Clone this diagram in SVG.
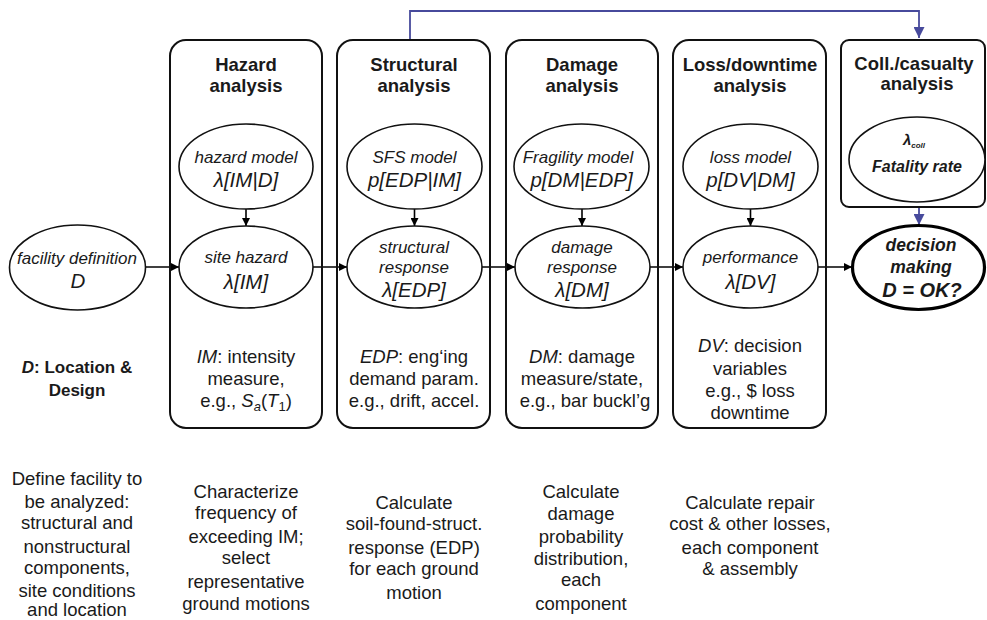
<svg xmlns="http://www.w3.org/2000/svg" width="987" height="620" viewBox="0 0 987 620">
<defs>
<marker id="ah" viewBox="0 0 10 10" refX="10" refY="5" markerWidth="8" markerHeight="8" markerUnits="userSpaceOnUse" orient="auto"><path d="M0,0 L10,5 L0,10 z" fill="#000"/></marker>
<marker id="ahb" viewBox="0 0 10 10" refX="10" refY="5" markerWidth="11" markerHeight="11" markerUnits="userSpaceOnUse" orient="auto"><path d="M0,0 L10,5 L0,10 z" fill="#474a9c"/></marker>
</defs>
<style>
.box{fill:none;stroke:#111;stroke-width:2}
.ell{fill:#fff;stroke:#111;stroke-width:1.6}
.ell2{fill:#fff;stroke:#000;stroke-width:3.2}
.t{font-family:"Liberation Sans",Arial,sans-serif;fill:#1a1a1a;text-anchor:middle}
.title{font-size:18.5px;font-weight:bold}
.it{font-size:17px;font-style:italic}
.mt{font-size:20.5px;font-style:italic}
.bt{font-size:18.5px}
.bi{font-style:italic}
.c{fill:none;stroke:#000;stroke-width:1.6}
.cb{fill:none;stroke:#474a9c;stroke-width:1.8}
</style>
<rect width="987" height="620" fill="#fff"/>

<g id="connectors">
<path class="cb" d="M410,40 V11 H919 V38" marker-end="url(#ahb)"/>
<path class="cb" d="M919,207 V225" marker-end="url(#ahb)"/>
<path class="c" d="M146,267 H179" marker-end="url(#ah)"/>
<path class="c" d="M313,267 H347" marker-end="url(#ah)"/>
<path class="c" d="M482,267 H515" marker-end="url(#ah)"/>
<path class="c" d="M650,267 H683" marker-end="url(#ah)"/>
<path class="c" d="M818,267 H852" marker-end="url(#ah)"/>
<path class="c" d="M246,209 V226" marker-end="url(#ah)"/>
<path class="c" d="M414.5,209 V226" marker-end="url(#ah)"/>
<path class="c" d="M582,209 V226" marker-end="url(#ah)"/>
<path class="c" d="M750.5,209 V226" marker-end="url(#ah)"/>
</g>

<g id="hazard-box">
<rect class="box" x="170" y="40" width="152" height="388" rx="16"/>
<text class="t title" x="246" y="71">Hazard</text>
<text class="t title" x="246" y="92">analysis</text>
<text class="t bt" x="246" y="363"><tspan class="bi">IM</tspan>: intensity</text>
<text class="t bt" x="246" y="385">measure,</text>
<text class="t bt" x="246" y="407">e.g., <tspan class="bi">S</tspan><tspan class="bi" font-size="13" dy="4">a</tspan><tspan dy="-4">(</tspan><tspan class="bi">T</tspan><tspan font-size="13" dy="4">1</tspan><tspan dy="-4">)</tspan></text>
</g>
<g id="structural-box">
<rect class="box" x="337" y="40" width="153" height="388" rx="16"/>
<text class="t title" x="414" y="71">Structural</text>
<text class="t title" x="414" y="92">analysis</text>
<text class="t bt" x="414" y="363"><tspan class="bi">EDP</tspan>: eng‘ing</text>
<text class="t bt" x="414" y="385">demand param.</text>
<text class="t bt" x="414" y="407">e.g., drift, accel.</text>
</g>
<g id="damage-box">
<rect class="box" x="506" y="40" width="152" height="388" rx="16"/>
<text class="t title" x="582" y="71">Damage</text>
<text class="t title" x="582" y="92">analysis</text>
<text class="t bt" x="582" y="363"><tspan class="bi">DM</tspan>: damage</text>
<text class="t bt" x="582" y="385">measure/state,</text>
<text class="t bt" x="585" y="407">e.g., bar buckl’g</text>
</g>
<g id="loss-box">
<rect class="box" x="673" y="40" width="153" height="388" rx="16"/>
<text class="t title" x="750" y="71">Loss/downtime</text>
<text class="t title" x="750" y="92">analysis</text>
<text class="t bt" x="750" y="352"><tspan class="bi">DV</tspan>: decision</text>
<text class="t bt" x="750" y="375">variables</text>
<text class="t bt" x="750" y="397">e.g., $ loss</text>
<text class="t bt" x="750" y="419">downtime</text>
</g>
<g id="coll-box">
<rect class="box" x="841" y="40" width="144" height="167" rx="8"/>
<text class="t title" x="914" y="70">Coll./casualty</text>
<text class="t title" x="917" y="90">analysis</text>
</g>

<g id="facility">
<ellipse class="ell" cx="77.5" cy="267.5" rx="68" ry="42.5"/>
<text class="t it" x="77" y="264">facility definition</text>
<text class="t mt" x="78" y="288">D</text>
</g>
<g id="hazard-model">
<ellipse class="ell" cx="246" cy="166.5" rx="67" ry="42.5"/>
<text class="t it" x="246" y="163">hazard model</text>
<text class="t mt" x="246" y="187">λ[IM|D]</text>
</g>
<g id="site-hazard">
<ellipse class="ell" cx="246" cy="267" rx="67" ry="41"/>
<text class="t it" x="246" y="263">site hazard</text>
<text class="t mt" x="246" y="289">λ[IM]</text>
</g>
<g id="sfs-model">
<ellipse class="ell" cx="414.5" cy="166.5" rx="67.5" ry="42.5"/>
<text class="t it" x="414.5" y="163">SFS model</text>
<text class="t mt" x="414.5" y="187">p[EDP|IM]</text>
</g>
<g id="structural-response">
<ellipse class="ell" cx="414.5" cy="267" rx="67.5" ry="41"/>
<text class="t it" x="414" y="253">structural</text>
<text class="t it" x="414" y="273">response</text>
<text class="t mt" x="414" y="297">λ[EDP]</text>
</g>
<g id="fragility-model">
<ellipse class="ell" cx="581.5" cy="166.5" rx="67.5" ry="42.5"/>
<text class="t it" x="578" y="163">Fragility model</text>
<text class="t mt" x="581.5" y="187">p[DM|EDP]</text>
</g>
<g id="damage-response">
<ellipse class="ell" cx="582.5" cy="267" rx="67.5" ry="41"/>
<text class="t it" x="582" y="253">damage</text>
<text class="t it" x="582" y="273">response</text>
<text class="t mt" x="582" y="297">λ[DM]</text>
</g>
<g id="loss-model">
<ellipse class="ell" cx="750.5" cy="166.5" rx="67.5" ry="42.5"/>
<text class="t it" x="750.5" y="163">loss model</text>
<text class="t mt" x="750.5" y="187">p[DV|DM]</text>
</g>
<g id="performance">
<ellipse class="ell" cx="750.5" cy="267" rx="67.5" ry="41"/>
<text class="t it" x="750.5" y="263">performance</text>
<text class="t mt" x="750.5" y="289">λ[DV]</text>
</g>
<g id="lambda-coll">
<ellipse class="ell" cx="917" cy="159.5" rx="68" ry="42.5"/>
<text class="t" x="914" y="145" font-size="15" font-style="italic" font-weight="bold">λ<tspan font-size="8" dy="3">coll</tspan></text>
<text class="t" x="917" y="172" font-size="16" font-style="italic" font-weight="bold">Fatality rate</text>
</g>
<g id="decision">
<ellipse class="ell2" cx="918.5" cy="267.5" rx="66" ry="42"/>
<text class="t" x="921" y="251" font-size="17.5" font-style="italic" font-weight="bold">decision</text>
<text class="t" x="921" y="273" font-size="17.5" font-style="italic" font-weight="bold">making</text>
<text class="t" x="922" y="297" font-size="20" font-style="italic" font-weight="bold">D = OK?</text>
</g>

<g id="facility-notes">
<text class="t" x="77" y="373" font-size="17" font-weight="bold"><tspan font-style="italic">D</tspan>: Location &amp;</text>
<text class="t" x="77" y="396" font-size="17" font-weight="bold">Design</text>
<text class="t bt" x="77" y="485">Define facility to</text>
<text class="t bt" x="77" y="508">be analyzed:</text>
<text class="t bt" x="77" y="529">structural and</text>
<text class="t bt" x="77" y="553">nonstructural</text>
<text class="t bt" x="77" y="574">components,</text>
<text class="t bt" x="77" y="597">site conditions</text>
<text class="t bt" x="77" y="616">and location</text>
</g>
<g id="hazard-notes">
<text class="t bt" x="246" y="498">Characterize</text>
<text class="t bt" x="246" y="519">frequency of</text>
<text class="t bt" x="246" y="543">exceeding IM;</text>
<text class="t bt" x="246" y="564">select</text>
<text class="t bt" x="246" y="588">representative</text>
<text class="t bt" x="246" y="610">ground motions</text>
</g>
<g id="structural-notes">
<text class="t bt" x="414" y="509">Calculate</text>
<text class="t bt" x="414" y="530">soil-found-struct.</text>
<text class="t bt" x="414" y="554">response (EDP)</text>
<text class="t bt" x="414" y="575">for each ground</text>
<text class="t bt" x="414" y="599">motion</text>
</g>
<g id="damage-notes">
<text class="t bt" x="581" y="498">Calculate</text>
<text class="t bt" x="581" y="520">damage</text>
<text class="t bt" x="581" y="543">probability</text>
<text class="t bt" x="581" y="565">distribution,</text>
<text class="t bt" x="581" y="586">each</text>
<text class="t bt" x="581" y="610">component</text>
</g>
<g id="loss-notes">
<text class="t bt" x="750" y="509">Calculate repair</text>
<text class="t bt" x="750" y="530">cost &amp; other losses,</text>
<text class="t bt" x="750" y="554">each component</text>
<text class="t bt" x="750" y="575">&amp; assembly</text>
</g>
</svg>
